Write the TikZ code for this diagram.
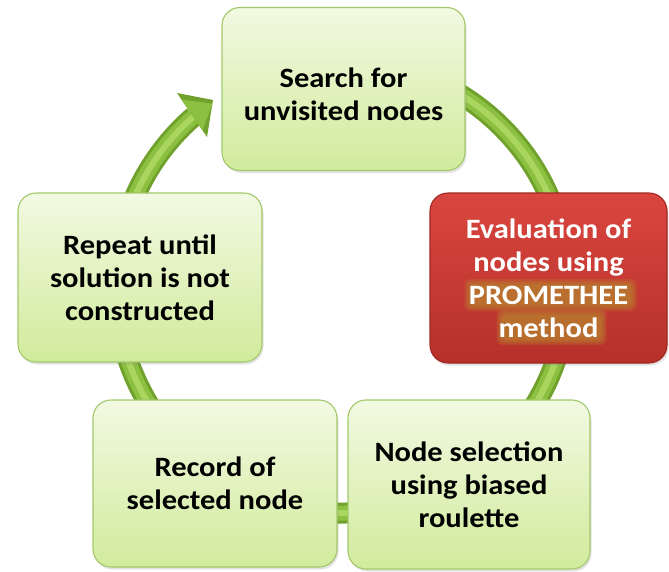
\documentclass[tikz,border=0pt]{standalone}
\usepackage{fontspec}
\setmainfont{Carlito}[FakeStretch=1.09]
\usetikzlibrary{shadows,calc}

\definecolor{boxtop}{HTML}{F2F9E2}
\definecolor{boxbot}{HTML}{D1EB9C}
\definecolor{boxedge}{HTML}{A2C86A}
\definecolor{redtop}{HTML}{D9463F}
\definecolor{redbot}{HTML}{B6302A}
\definecolor{rededge}{HTML}{A02822}
\definecolor{ringdark}{HTML}{70A12C}
\definecolor{ringmid}{HTML}{8CC040}
\definecolor{ringlight}{HTML}{AAD660}
\definecolor{glowcol}{HTML}{B8842E}

\tikzset{
  stagebox/.style={rounded corners=18pt, draw=boxedge, line width=1.1pt,
    top color=boxtop, bottom color=boxbot, inner sep=0pt, align=center,
    font=\fontsize{28}{33}\selectfont\bfseries, text=black,
    drop shadow={shadow xshift=1.5pt, shadow yshift=-2.5pt, opacity=0.22}},
  keybox/.style={stagebox, draw=rededge, top color=redtop, bottom color=redbot},
  keytext/.style={inner sep=0pt, align=center,
    font=\fontsize{28}{33}\selectfont\bfseries, text=white},
  ringstroke/.style={line cap=butt},
  halo/.style={fill=glowcol, opacity=0.24}
}

% soft orange band behind a word: #1 = centre, #2 = half width, #3 = half height
\newcommand\haloband[3]{%
  \foreach \g in {0,1.5,...,6} {
    \fill[halo, rounded corners=6pt]
      ($(#1)+(-#2-\g,-#3-\g)$) rectangle ($(#1)+(#2+\g,#3+\g)$);
  }}

\begin{document}
\begin{tikzpicture}[x=1pt,y=-1pt]
\useasboundingbox (0,0) rectangle (669,571);

% centre of the cycle ring
\coordinate (c) at (342,287);

% the ring: a thick tube running clockwise and ending in an arrowhead
\foreach \w/\col in {21/ringdark, 15/ringmid, 6/ringlight} {
  \draw[ringstroke, line width=\w pt, \col]
    (c) ++(-100:226) arc[start angle=-100, end angle=229, radius=226];
}
\coordinate (tip) at (213,100);
\coordinate (wingA) at (177,93);
\coordinate (wingB) at (207,137);
\fill[ringdark] (wingA) -- (tip) -- (wingB) -- cycle;
\fill[ringmid] ($(wingA)!0.15!(wingB)$) -- ($(tip)!0.1!(wingB)$) -- ($(wingB)!0.15!(wingA)$) -- cycle;

% the five stages
\node[stagebox, minimum width=243pt, minimum height=163pt] (search) at (343.5,89)
  {\raisebox{-15pt}[0pt][0pt]{\begin{tabular}{@{}c@{}}Search for\\unvisited nodes\end{tabular}}};
\node[keybox, minimum width=237pt, minimum height=170pt] (eval) at (548.5,278) {};
\coordinate (haloA) at (550.5,295);
\coordinate (haloB) at (551.5,327);
\haloband{haloA}{80}{10}
\haloband{haloB}{49}{12}
\node[keytext] (evaltext) at (eval.center)
  {Evaluation of\\nodes using\\PROMETHEE\\method};
\node[stagebox, minimum width=242pt, minimum height=169pt] (select) at (469,484.5)
  {Node selection\\using biased\\roulette};
\node[stagebox, minimum width=244pt, minimum height=167pt] (record) at (215,483.5)
  {Record of\\selected node};
\node[stagebox, minimum width=244pt, minimum height=169pt] (repeat) at (140,277.5)
  {Repeat until\\solution is not\\constructed};
\end{tikzpicture}
\end{document}
